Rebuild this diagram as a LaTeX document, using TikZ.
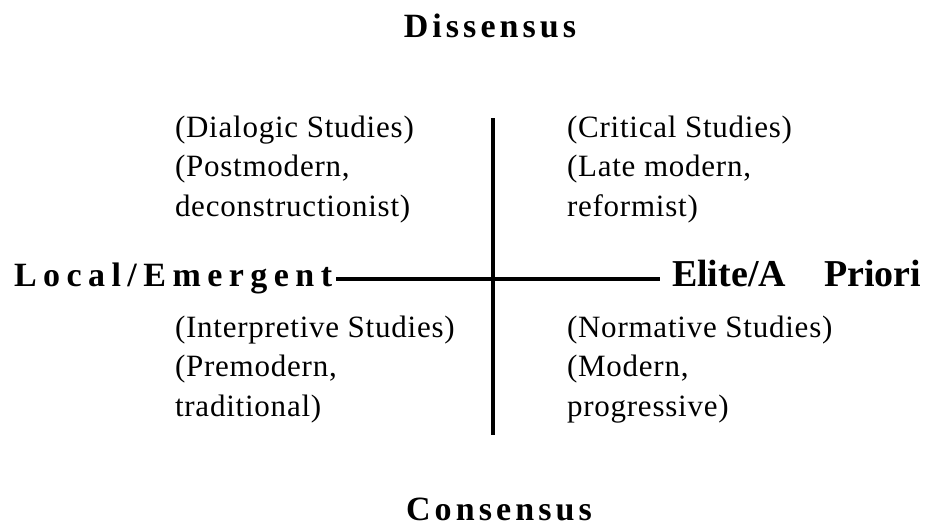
\documentclass[tikz,border=0pt]{standalone}
\usepackage{fontspec}
\setmainfont{Liberation Serif}
\newfontfamily\hdfontA{Liberation Serif Bold}[LetterSpace=12]
\newfontfamily\hdfontB{Liberation Serif Bold}[LetterSpace=19]
\newfontfamily\quadfont{Liberation Serif}[LetterSpace=2.5]
\begin{document}
\begin{tikzpicture}[x=1pt,y=-1pt,
  every node/.style={inner sep=0pt,outer sep=0pt},
  head/.style={font=\hdfontA\fontsize{34}{40}\selectfont},
  quad/.style={font=\quadfont\fontsize{31}{39.5}\selectfont, align=left, anchor=base west},
  axis/.style={line width=4pt}]
\useasboundingbox (0,0) rectangle (940,527);
\node[head, anchor=base] (dis) at (490,38) {Dissensus};
\node[head, anchor=base] (con) at (499,520) {Consensus};
\node[anchor=base west, font=\hdfontB\fontsize{34}{40}\selectfont] (loc) at (14,286) {Local/Emergent};
\node[anchor=base west, font=\fontsize{38}{44}\selectfont\bfseries] (eli) at (672,286) {Elite/A\hspace{38pt}Priori};
\node[quad] (dia) at (175,216) {(Dialogic Studies)\\(Postmodern,\\deconstructionist)};
\node[quad] (cri) at (567,216) {(Critical Studies)\\(Late modern,\\reformist)};
\node[quad] (int) at (175,416) {(Interpretive Studies)\\(Premodern,\\traditional)};
\node[quad] (nor) at (567,416) {(Normative Studies)\\(Modern,\\progressive)};
\coordinate (top) at (493,118);
\coordinate (bot) at (493,435);
\coordinate (cen) at (493,279);
\draw[line width=3.5pt] (top) -- (bot);
\draw[axis] ([xshift=4pt]loc.east |- cen) -- ([xshift=-12pt]eli.west |- cen);
\end{tikzpicture}
\end{document}
